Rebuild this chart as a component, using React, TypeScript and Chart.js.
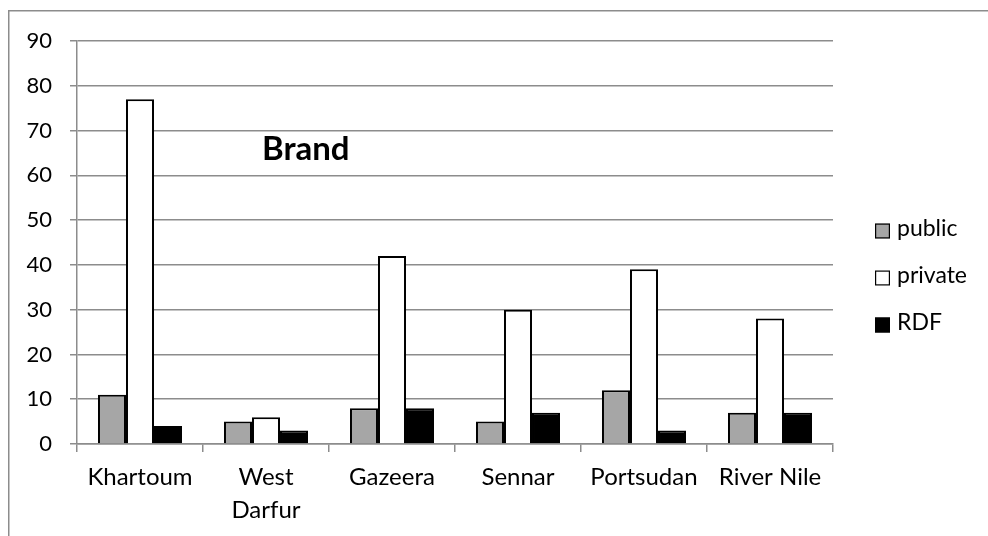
import React, { useEffect, useRef } from "react";
import { Chart, registerables } from "chart.js";

Chart.register(...registerables);

const categories: (string | string[])[] = ["Khartoum", ["West", "Darfur"], "Gazeera", "Sennar", "Portsudan", "River Nile"];
const publicValues = [11, 5, 8, 5, 12, 7];
const privateValues = [77, 6, 42, 30, 39, 28];
const rdfValues = [4, 3, 8, 7, 3, 7];
const chartTitle = "Brand";

const FONT = "Lato, 'Open Sans', sans-serif";
const GRID = "#8c8c8c";

const framePlugin = {
  id: "frame",
  beforeDraw(chart: any) {
    const ctx = chart.ctx;
    ctx.save();
    ctx.fillStyle = "#ffffff";
    ctx.fillRect(0, 0, chart.width, chart.height);
    ctx.strokeStyle = GRID;
    ctx.lineWidth = 1.5;
    ctx.beginPath();
    ctx.moveTo(8.75, chart.height + 5);
    ctx.lineTo(8.75, 10.75);
    ctx.lineTo(chart.width + 5, 10.75);
    ctx.stroke();
    ctx.restore();
  },
  afterDraw(chart: any) {
    const ctx = chart.ctx;
    const area = chart.chartArea;
    ctx.save();
    // title inside plot
    ctx.fillStyle = "#000";
    ctx.font = `bold 33px ${FONT}`;
    ctx.textAlign = "left";
    ctx.textBaseline = "alphabetic";
    ctx.fillText(chartTitle, area.left + 185, area.top + 119);
    // legend
    ctx.font = `23px ${FONT}`;
    ctx.textBaseline = "middle";
    const ys = [231, 278, 325];
    chart.data.datasets.forEach((ds: any, i: number) => {
      const y = ys[i];
      const x = area.right + 42;
      ctx.fillStyle = ds.backgroundColor;
      ctx.fillRect(x, y - 7.5, 15, 15);
      ctx.strokeStyle = "#000";
      ctx.lineWidth = 1.2;
      ctx.strokeRect(x + 0.6, y - 6.9, 13.8, 13.8);
      ctx.fillStyle = "#000";
      ctx.fillText(ds.label, x + 22, y - 2);
    });
    ctx.restore();
  },
};

export default function App() {
  const ref = useRef<HTMLCanvasElement>(null);
  useEffect(() => {
    if (!ref.current) return;
    const chart = new Chart(ref.current, {
      type: "bar",
      data: {
        labels: categories,
        datasets: [
          { label: "public", data: publicValues, backgroundColor: "#a6a6a6", borderColor: "#000", borderWidth: 2 },
          { label: "private", data: privateValues, backgroundColor: "#ffffff", borderColor: "#000", borderWidth: 2 },
          { label: "RDF", data: rdfValues, backgroundColor: "#000000", borderColor: "#000", borderWidth: 2 },
        ],
      },
      options: {
        animation: false,
        responsive: false,
        devicePixelRatio: 1,
        layout: { padding: { left: 0, right: 155, top: 41, bottom: 0 } },
        plugins: { legend: { display: false }, tooltip: { enabled: false }, title: { display: false } },
        datasets: { bar: { categoryPercentage: 0.667, barPercentage: 1.0 } },
        scales: {
          x: {
            grid: { display: true, drawOnChartArea: false, drawTicks: true, tickLength: 8, color: GRID, lineWidth: 1.5, offset: true },
            border: { display: true, color: GRID, width: 1.5 },
            ticks: { color: "#000", font: { family: FONT, size: 24, lineHeight: 1.375 }, padding: 9, maxRotation: 0, autoSkip: false },
            afterFit: (s: any) => { s.height = 92; },
          },
          y: {
            min: 0,
            max: 90,
            ticks: { stepSize: 10, color: "#000", font: { family: FONT, size: 22 }, padding: 18 },
            grid: { color: GRID, lineWidth: 1.5, tickLength: 7, drawTicks: true },
            border: { display: true, color: GRID, width: 1.5 },
            afterFit: (s: any) => { s.width = 77; },
          },
        },
      },
      plugins: [framePlugin],
    });
    return () => chart.destroy();
  }, []);
  return (
    <canvas
      ref={ref}
      width={988}
      height={536}
      style={{ position: "fixed", left: 0, top: 0, width: 988, height: 536 }}
    />
  );
}
